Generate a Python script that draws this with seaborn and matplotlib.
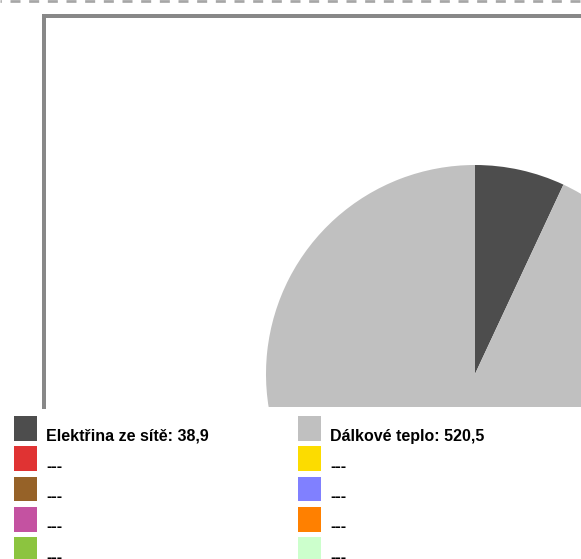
import numpy as np
import matplotlib
matplotlib.use("Agg")
import matplotlib.pyplot as plt
import seaborn as sns
from matplotlib.lines import Line2D
from matplotlib.patches import Rectangle

# legend order: row by row, left column then right column
labels = ["Elektřina ze sítě", "Dálkové teplo", "---", "---", "---",
          "---", "---", "---", "---", "---"]
values = [38.9, 520.5, 0, 0, 0, 0, 0, 0, 0, 0]
colors = ["#4d4d4d", "#c0c0c0", "#e03333", "#fcdc00", "#966228",
          "#8080ff", "#c452a1", "#ff8000", "#8cc43f", "#ccffcc"]


def fmt(lab, val):
    """ label text as in the legend: name: value with decimal comma """
    if val == 0:
        return lab
    return lab + ": " + ("%.1f" % val).replace(".", ",")


sns.set_style("white")
plt.rcParams["font.family"] = ["Liberation Sans", "DejaVu Sans"]
plt.rcParams["lines.scale_dashes"] = False

W, H = 581, 559
fig = plt.figure(figsize=(W / 100, H / 100), dpi=100)

# box with the pie, in pixel units
bl, bt, bb = 44, 16, 407
ax = fig.add_axes([bl / W, (H - bb) / H, (W - bl) / W, (bb - bt) / H])
nz = [i for i, v in enumerate(values) if v > 0]
wedges, _ = ax.pie([values[i] for i in nz], colors=[colors[i] for i in nz],
                   startangle=90, counterclock=False,
                   center=(475 - bl, bb - 374), radius=209, frame=True,
                   wedgeprops=dict(linewidth=0, antialiased=True))
for w in wedges:
    w.set_clip_on(True)
    w.set_clip_path(ax.patch)
ax.set_aspect("auto")
ax.set_xlim(0, W - bl)
ax.set_ylim(0, bb - bt)
ax.set_xticks([])
ax.set_yticks([])
for s in ["right", "bottom"]:
    ax.spines[s].set_visible(False)
for s in ["left", "top"]:
    ax.spines[s].set_visible(True)
    ax.spines[s].set_color("#888888")
    ax.spines[s].set_linewidth(4 * 0.72)

# dashed line at top
fig.add_artist(Line2D([0, 1], [1 - 1.3 / H, 1 - 1.3 / H], transform=fig.transFigure,
                      color="#a6a6a6", linewidth=2.7 * 0.72,
                      linestyle=(6.24, (7.2, 6.24))))

# legend
lg = fig.add_axes([0, 0, 1, 1])
lg.set_xlim(0, W)
lg.set_ylim(H, 0)
lg.axis("off")
for i, (lab, val, col) in enumerate(zip(labels, values, colors)):
    r, c = divmod(i, 2)
    x0 = 14 + c * 284
    y0 = 416 + r * 30.3
    lg.add_patch(Rectangle((x0, y0), 23, 24.7, facecolor=col, edgecolor="none"))
    lg.text(x0 + 32, y0 + 24.5, fmt(lab, val), fontsize=16 * 0.72,
            fontweight="bold", va="baseline", ha="left", color="black")

fig.savefig("out.png", dpi=100)
